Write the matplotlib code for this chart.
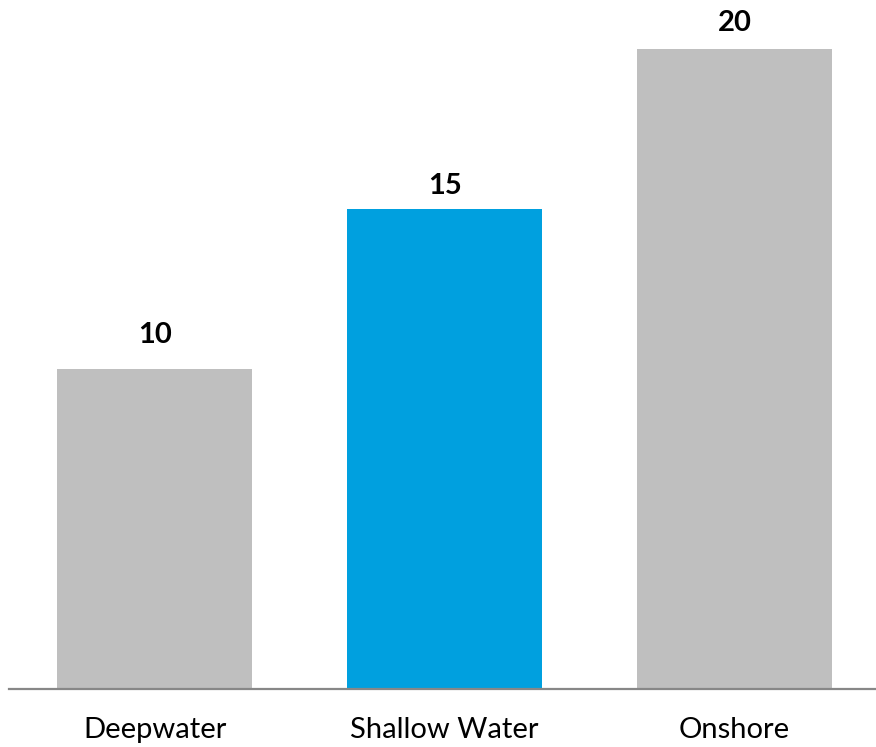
import matplotlib
matplotlib.use("Agg")
import matplotlib.pyplot as plt

categories = ["Deepwater", "Shallow Water", "Onshore"]
values = [10, 15, 20]
colors = ["#BFBFBF", "#00A0DF", "#BFBFBF"]
label_gap_pt = [18.7, 10.8, 13.0]  # label baseline offset above bar top

plt.rcParams['font.family'] = ['Lato', 'DejaVu Sans']

fig = plt.figure(figsize=(8.76, 7.47), dpi=100)
W, H = 876, 747
ax = fig.add_axes([9 / W, (H - 689) / H, (876 - 9) / W, 689 / H])
x = list(range(len(categories)))
bars = ax.bar(x, values, width=0.672, color=colors, linewidth=0, zorder=2)
ax.set_xlim(-0.502, 2.488)
ax.set_ylim(0, 689 / 32)

for xi, v, g in zip(x, values, label_gap_pt):
    ax.annotate(str(v), (xi, v), xytext=(0, g), textcoords="offset points",
                ha="center", va="baseline", fontsize=21, fontweight="bold", color="black")

ax.set_xticks(x)
ax.set_xticklabels(categories, fontsize=21)
ax.tick_params(axis='x', length=0, pad=20)
ax.set_yticks([])
for s in ["top", "right", "left"]:
    ax.spines[s].set_visible(False)
ax.spines["bottom"].set_color("#878787")
ax.spines["bottom"].set_linewidth(1.6)

fig.savefig("out.png", dpi=100)
